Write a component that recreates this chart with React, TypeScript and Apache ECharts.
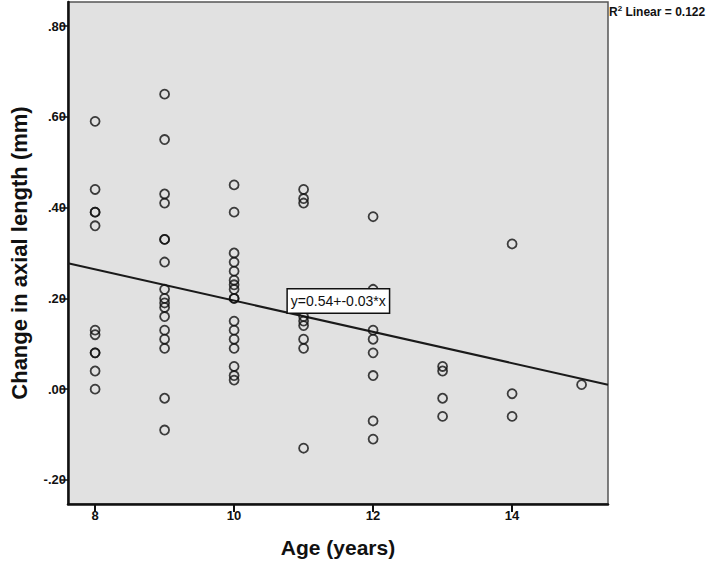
import React, { useEffect, useRef } from "react";
import * as echarts from "echarts";

// Age groups (x) and the observed change in axial length (mm) for each
const AGE_GROUPS = [8, 9, 10, 11, 12, 13, 14, 15];
const CHANGE_BY_AGE: number[][] = [
  [0.59, 0.44, 0.39, 0.39, 0.36, 0.13, 0.12, 0.08, 0.08, 0.04, 0.0],
  [0.65, 0.55, 0.43, 0.41, 0.33, 0.33, 0.28, 0.22, 0.2, 0.19, 0.18, 0.16, 0.13, 0.11, 0.09, -0.02, -0.09],
  [0.45, 0.39, 0.3, 0.28, 0.26, 0.24, 0.23, 0.22, 0.2, 0.2, 0.15, 0.13, 0.11, 0.09, 0.05, 0.03, 0.02],
  [0.44, 0.42, 0.41, 0.16, 0.15, 0.14, 0.11, 0.09, -0.13],
  [0.38, 0.22, 0.13, 0.11, 0.08, 0.03, -0.07, -0.11],
  [0.05, 0.04, -0.02, -0.06],
  [0.32, -0.01, -0.06],
  [0.01],
];

// Fit line (as drawn in the reference)
const FIT_INTERCEPT = 0.539;
const FIT_SLOPE = -0.0344;
const FIT_LABEL = "y=0.54+-0.03*x";
const R2_TEXT = "0.122";

// Axes
const X_MIN = 7.61;
const X_MAX = 15.38;
const Y_MIN = -0.253;
const Y_MAX = 0.853;
const X_TICKS = [8, 10, 12, 14];
const Y_TICKS = [-0.2, 0, 0.2, 0.4, 0.6, 0.8];

const FONT = "'Liberation Sans', Arial, sans-serif";

function fmtY(v: number): string {
  const s = Math.abs(v).toFixed(2).replace(/^0/, "");
  return (v < 0 ? "-" : "") + s;
}

export default function App() {
  const ref = useRef<HTMLDivElement>(null);
  useEffect(() => {
    if (!ref.current) return;
    const chart = echarts.init(ref.current, undefined, { renderer: "svg" });
    const points: number[][] = [];
    AGE_GROUPS.forEach((age, i) => {
      CHANGE_BY_AGE[i].forEach((v) => points.push([age, v]));
    });
    const fit = [
      [X_MIN, FIT_INTERCEPT + FIT_SLOPE * X_MIN],
      [X_MAX, FIT_INTERCEPT + FIT_SLOPE * X_MAX],
    ];
    chart.setOption({
      animation: false,
      backgroundColor: "#ffffff",
      grid: {
        left: 63,
        right: 100,
        top: 2,
        bottom: 60,
        show: true,
        backgroundColor: "#e1e1e1",
        borderColor: "#555555",
        borderWidth: 1.5,
      },
      xAxis: {
        type: "value",
        min: X_MIN,
        max: X_MAX,
        splitLine: { show: false },
        axisLine: { show: true, onZero: false, lineStyle: { color: "#111", width: 2.5 } },
        axisTick: {
          show: true,
          length: 8,
          customValues: X_TICKS,
          lineStyle: { color: "#111", width: 2 },
        },
        axisLabel: {
          customValues: X_TICKS,
          margin: 5,
          fontFamily: FONT,
          fontSize: 13,
          fontWeight: "bold",
          color: "#111",
        },
        name: "Age (years)",
        nameLocation: "middle",
        nameGap: 33,
        nameTextStyle: { fontFamily: FONT, fontSize: 21, fontWeight: "bold", color: "#111" },
      },
      yAxis: {
        type: "value",
        min: Y_MIN,
        max: Y_MAX,
        splitLine: { show: false },
        axisLine: { show: true, onZero: false, lineStyle: { color: "#111", width: 2.5 } },
        axisTick: {
          show: true,
          length: 8,
          customValues: Y_TICKS,
          lineStyle: { color: "#111", width: 1.5 },
        },
        axisLabel: {
          customValues: Y_TICKS,
          margin: 2,
          formatter: (v: number) => fmtY(v),
          fontFamily: FONT,
          fontSize: 13,
          fontWeight: "bold",
          color: "#111",
        },
        name: "Change in axial length (mm)",
        nameLocation: "middle",
        nameGap: 38,
        nameTextStyle: { fontFamily: FONT, fontSize: 22, fontWeight: "bold", color: "#111" },
      },
      series: [
        {
          type: "line",
          data: fit,
          symbol: "none",
          lineStyle: { color: "#1a1a1a", width: 2 },
          z: 2,
          markPoint: {
            symbol: "rect",
            symbolSize: 0,
            data: [{ coord: [11.5, 0.194] }],
            label: {
              show: true,
              formatter: FIT_LABEL,
              position: "inside",
              fontFamily: FONT,
              fontSize: 14,
              color: "#111",
              backgroundColor: "#ffffff",
              borderColor: "#111",
              borderWidth: 1.5,
              padding: [5, 3, 4, 3],
            },
          },
        },
        {
          type: "scatter",
          data: points,
          symbol: "circle",
          symbolSize: 9,
          itemStyle: { color: "rgba(0,0,0,0)", borderColor: "#111", borderWidth: 1.8 },
          z: 3,
        },
      ],
      graphic: [
        {
          type: "text",
          left: 609,
          top: 4,
          style: {
            text: "{b|R}{s|2}{b| Linear = " + R2_TEXT + "}",
            rich: {
              b: { fontFamily: FONT, fontSize: 12, fontWeight: "bold", fill: "#111", verticalAlign: "bottom" },
              s: { fontFamily: FONT, fontSize: 8, fontWeight: "bold", fill: "#111", verticalAlign: "top", padding: [0, 0, 6, 0] },
            },
          },
        },
      ],
    });
    return () => chart.dispose();
  }, []);
  return (
    <div
      ref={ref}
      style={{ position: "fixed", left: 0, top: 0, width: 708, height: 564 }}
    />
  );
}
